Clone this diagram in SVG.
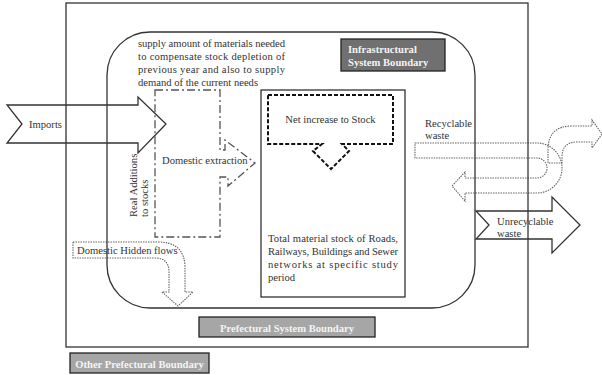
<svg xmlns="http://www.w3.org/2000/svg" width="602" height="375" viewBox="0 0 602 375">
<style>
text{font-family:"Liberation Serif","Times New Roman",serif;font-size:10.6px;fill:#333}
.bnd{fill:none;stroke:#333;stroke-width:1.3}
.arr{fill:none;stroke:#333;stroke-width:1.3;stroke-linejoin:miter}
.dot{fill:none;stroke:#666;stroke-width:1.1;stroke-dasharray:1.5 1}
.lbl{stroke:#222;stroke-width:1.3}
.lt{font-weight:bold;fill:#f4f4f4}
</style>
<rect width="602" height="375" fill="#fff"/>
<g id="connectors">
  <g id="imports">
    <path class="arr" d="M7,105 H138 V97 L166,124 L138,153 V143 H7 L22,124 Z"/>
    <text x="29" y="127.5">Imports</text>
  </g>
  <g id="hidden-flows">
    <path class="dot" d="M73,242 H158 Q185,242 185,268 V292 H193 L178,306 L162,292 H169 V272 Q169,258 155,258 H73 Z"/>
    <text x="77" y="254">Domestic Hidden flows</text>
  </g>
  <g id="recyclable">
    <path class="dot" d="M415,143 H537 A25,25 0 0 1 537,193 H465 V201 L452,186 L465,172 V178 H537 A10,10 0 0 0 537,158 H415 Z"/>
    <path class="dot" d="M548,163 V150 Q548,126 572,126 H592 V120 L602,134 L592,148 V142 H577 Q562,142 562,157 V163 Z"/>
    <text x="425" y="127">Recyclable</text>
    <text x="425" y="139">waste</text>
  </g>
  <g id="unrecyclable">
    <path class="arr" d="M476,211 H552 V197 L580,225 L552,253 V239 H476 L489,225 Z"/>
    <text x="497" y="225">Unrecyclable</text>
    <text x="497" y="237">waste</text>
  </g>
</g>
<g id="prefectural-boundary">
  <rect class="bnd" x="66" y="3" width="462" height="344"/>
</g>
<g id="infrastructural-boundary">
  <rect class="bnd" x="107" y="32" width="368" height="276" rx="43" ry="43"/>
</g>
<g id="supply-text">
  <text x="138" y="47" textLength="147" lengthAdjust="spacing">supply amount of materials needed</text>
  <text x="138" y="60" textLength="147" lengthAdjust="spacing">to compensate stock depletion of</text>
  <text x="138" y="73" textLength="147" lengthAdjust="spacing">previous year and also to supply</text>
  <text x="138" y="86">demand of the current needs</text>
</g>
<g id="domestic-extraction">
  <path d="M155,90 H220 V150 H225 V140 L255,163 L228,186 V177 H220 V237 H155 Z" fill="none" stroke="#555" stroke-width="1.3" stroke-dasharray="8 3 2 3"/>
  <text x="162" y="164">Domestic extraction</text>
</g>
<g id="real-additions">
  <text transform="translate(137,217) rotate(-90)">Real Additions</text>
  <text transform="translate(148,217) rotate(-90)">to stocks</text>
</g>
<g id="stock">
  <rect x="261" y="90" width="144" height="207" fill="none" stroke="#222" stroke-width="1.2"/>
  <text x="268" y="242" textLength="130" lengthAdjust="spacing">Total material stock of Roads,</text>
  <text x="268" y="255" textLength="130" lengthAdjust="spacing">Railways, Buildings and Sewer</text>
  <text x="268" y="268" textLength="130" lengthAdjust="spacing">networks at specific study</text>
  <text x="268" y="281">period</text>
</g>
<g id="net-increase">
  <path d="M268,95 H393 V144 H342 L349,151 L331,169 L313,151 L322,144 H268 Z" fill="none" stroke="#111" stroke-width="2" stroke-dasharray="4 2"/>
  <text x="330.5" y="123" text-anchor="middle">Net increase to Stock</text>
</g>
<g id="label-infrastructural">
  <rect class="lbl" x="341" y="39" width="104" height="32" fill="#707070"/>
  <text class="lt" x="348" y="53">Infrastructural</text>
  <text class="lt" x="348" y="66">System Boundary</text>
</g>
<g id="label-prefectural">
  <rect class="lbl" x="199" y="317" width="176" height="20" fill="#a6a6a6"/>
  <text class="lt" x="287" y="331.5" text-anchor="middle">Prefectural System Boundary</text>
</g>
<g id="label-other">
  <rect class="lbl" x="70" y="353" width="139" height="20" fill="#a6a6a6"/>
  <text class="lt" x="139.5" y="367.5" text-anchor="middle">Other Prefectural Boundary</text>
</g>
</svg>
